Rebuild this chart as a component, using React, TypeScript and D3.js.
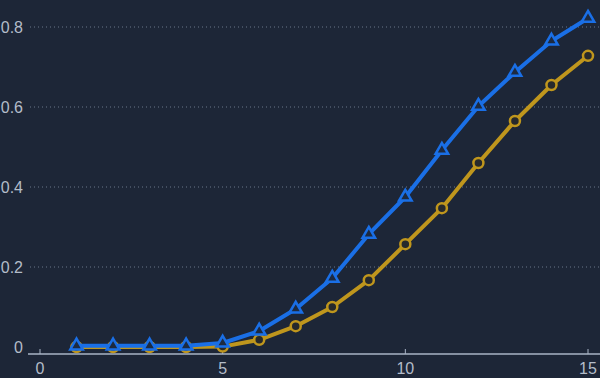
import React from "react";
import * as d3 from "d3";

const xValues = [1, 2, 3, 4, 5, 6, 7, 8, 9, 10, 11, 12, 13, 14, 15];
const blueValues = [0.003, 0.003, 0.003, 0.003, 0.01, 0.04, 0.095, 0.172, 0.282, 0.375, 0.492, 0.602, 0.687, 0.765, 0.822];
const goldValues = [0.0, 0.0, 0.0, 0.0, 0.001, 0.018, 0.052, 0.1, 0.167, 0.257, 0.347, 0.46, 0.565, 0.655, 0.728];
const xTicks = [0, 5, 10, 15];
const yTicks = [0, 0.2, 0.4, 0.6, 0.8];
const yGrid = [0.2, 0.4, 0.6, 0.8];

const W = 600;
const H = 378;

export default function App() {
  const x = d3.scaleLinear().domain([0, 15]).range([40, 588]);
  const y = d3.scaleLinear().domain([0, 0.8]).range([347, 27]);
  const axisY = 354;
  const bg = "#1d2637";
  const blue = "#1a6fe6";
  const gold = "#bf961d";
  const textCol = "#b3bcc9";

  const line = d3
    .line<number>()
    .x((_, i) => x(xValues[i]))
    .y((d) => y(d));

  const tri = d3.symbol().type(d3.symbolTriangle).size(68)();

  return (
    <svg
      width={W}
      height={H}
      style={{ position: "absolute", left: 0, top: 0, display: "block" }}
      fontFamily="'Liberation Sans', Arial, sans-serif"
    >
      <rect x={0} y={0} width={W} height={H} fill={bg} />
      {yGrid.map((t) => (
        <line
          key={t}
          x1={30}
          x2={W}
          y1={y(t)}
          y2={y(t)}
          stroke="#6a768a"
          strokeWidth={1}
          strokeDasharray="1 3"
        />
      ))}
      {yTicks.map((t) => (
        <text
          key={t}
          x={23}
          y={y(t)}
          dy="0.36em"
          textAnchor="end"
          fill={textCol}
          fontSize={16}
        >
          {t === 0 ? "0" : t.toFixed(1)}
        </text>
      ))}
      <line x1={28} x2={W} y1={axisY} y2={axisY} stroke="#a9b4c6" strokeWidth={1.5} />
      {xTicks.map((t) => (
        <g key={t}>
          <line x1={x(t)} x2={x(t)} y1={axisY} y2={axisY - 5} stroke="#a9b4c6" strokeWidth={1} />
          <text x={x(t)} y={368} dy="0.36em" textAnchor="middle" fill={textCol} fontSize={16}>
            {t}
          </text>
        </g>
      ))}
      <path d={line(goldValues) || ""} fill="none" stroke={gold} strokeWidth={4} strokeLinejoin="round" />
      {goldValues.map((v, i) => (
        <circle key={i} cx={x(xValues[i])} cy={y(v)} r={5} fill="#26292c" stroke={gold} strokeWidth={2.5} />
      ))}
      <path d={line(blueValues) || ""} fill="none" stroke={blue} strokeWidth={4} strokeLinejoin="round" />
      {blueValues.map((v, i) => (
        <path
          key={i}
          d={tri || ""}
          transform={`translate(${x(xValues[i])},${y(v)})`}
          fill="#1d2a40"
          stroke={blue}
          strokeWidth={2.5}
        />
      ))}
    </svg>
  );
}
